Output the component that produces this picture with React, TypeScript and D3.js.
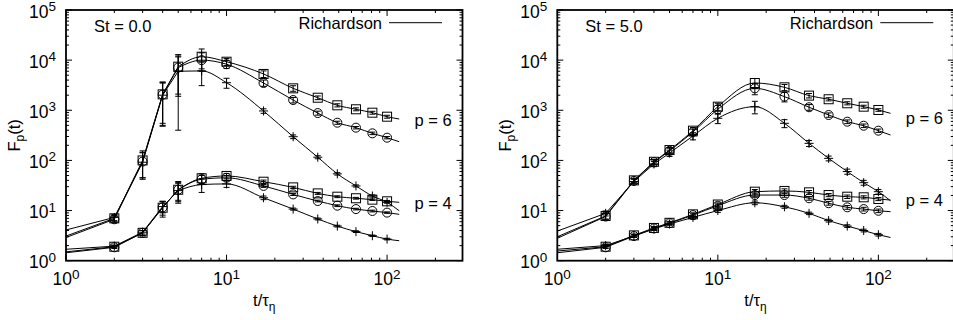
import React from 'react';
import * as d3 from 'd3';

// ---- data ----
const T = [2, 3, 4, 5, 7, 10, 17, 26, 37, 49, 64, 81, 100];
const T_START = 1;
const T_END = 119;
const T_SMOOTH_FROM = 5; // curves are straight segments before this time, smooth fits after

const X_TICKS = [1, 10, 100];
const Y_TICKS = [1, 10, 100, 1000, 10000, 100000];
const PANEL_TITLES = ['St = 0.0', 'St = 5.0'];
const LEGEND_LABEL = 'Richardson';
const ORDER_LABELS = ['p = 6', 'p = 4'];

// St = 0.0, p = 6
const s0p6Square = [7.0, 100, 2080, 7400, 11700, 9300, 5300, 2740, 1780, 1257, 1047, 895, 745];
const s0p6SquareErr = [1, 55, 1600, 5500, 5000, 1500, 800, 350, 150, 90, 70, 60, 50];
const s0p6Circle = [6.7, 95, 2050, 7100, 10000, 8300, 3500, 1600, 880, 565, 450, 347, 284];
const s0p6CircleErr = [1, 50, 1500, 5000, 4000, 1500, 500, 200, 80, 40, 25, 20, 15];
const s0p6Plus = [7.3, 92, 2000, 6000, 6100, 3550, 970, 297, 116, 54, 31, 19.5, 14.6];
const s0p6PlusErr = [1, 50, 1500, 5600, 3000, 800, 100, 25, 8, 3, 1.5, 1, 0.6];
const s0p6Start = [3.1, 2.9, 4.1];
const s0p6End = [670, 236, 9.9];

// St = 0.0, p = 4
const s0p4Square = [1.9, 3.6, 11.4, 26, 44, 49, 37.6, 29, 22, 18.9, 17.6, 16.5, 15.3];
const s0p4SquareErr = [0.1, 0.4, 4, 12, 10, 6, 3, 1.5, 1, 0.8, 0.7, 0.6, 0.6];
const s0p4Circle = [1.85, 3.6, 11.6, 26, 42, 45, 31, 21, 15.5, 12.5, 10.7, 9.8, 9.1];
const s0p4CircleErr = [0.1, 0.4, 3.5, 10, 8, 5, 2, 1, 0.6, 0.5, 0.4, 0.4, 0.3];
const s0p4Plus = [1.95, 3.7, 12, 25, 33, 34, 18, 10.7, 6.8, 4.9, 3.8, 3.15, 2.7];
const s0p4PlusErr = [0.1, 0.3, 3, 10, 10, 5, 1.5, 0.5, 0.3, 0.2, 0.15, 0.1, 0.1];
const s0p4Start = [1.5, 1.44, 1.69];
const s0p4End = [14.6, 8.4, 2.5];

// St = 5.0, p = 6
const s5p6Square = [7.8, 40, 94, 161, 392, 1180, 3500, 2870, 1960, 1660, 1380, 1180, 1014];
const s5p6SquareErr = [1, 4, 10, 20, 60, 200, 800, 400, 200, 120, 100, 80, 60];
const s5p6Circle = [7.6, 39, 92, 155, 370, 1050, 2740, 1870, 1150, 805, 592, 492, 392];
const s5p6CircleErr = [1, 4, 10, 20, 50, 200, 700, 400, 150, 80, 50, 40, 30];
const s5p6Plus = [8.8, 38, 85, 140, 307, 692, 1180, 550, 219, 110, 60, 36, 23.8];
const s5p6PlusErr = [1, 4, 10, 20, 50, 150, 330, 100, 30, 12, 7, 4, 2.5];
const s5p6Start = [3.0, 2.8, 3.9];
const s5p6End = [870, 321, 15.7];

// St = 5.0, p = 4
const s5p4Square = [1.9, 3.2, 4.5, 5.7, 8.4, 13.2, 23.8, 24.6, 23.1, 20.4, 18.9, 18.4, 17];
const s5p4SquareErr = [0.1, 0.2, 0.3, 0.4, 0.6, 1.0, 2.5, 2.5, 2, 1.5, 1.5, 1.3, 1.2];
const s5p4Circle = [1.85, 3.1, 4.4, 5.6, 8.1, 12.5, 20.4, 20.4, 17.6, 14, 11.6, 10.7, 9.9];
const s5p4CircleErr = [0.1, 0.2, 0.3, 0.4, 0.5, 0.9, 2, 2, 1.5, 1.2, 1, 0.9, 0.8];
const s5p4Plus = [2.0, 3.1, 4.3, 5.4, 7.3, 10, 14.3, 11.9, 8.8, 6.3, 4.9, 4.0, 3.3];
const s5p4PlusErr = [0.1, 0.2, 0.3, 0.3, 0.5, 0.8, 1.2, 0.8, 0.5, 0.4, 0.3, 0.25, 0.2];
const s5p4Start = [1.56, 1.44, 1.69];
const s5p4End = [16.2, 9.5, 2.9];

type Marker = 'square' | 'circle' | 'plus';
interface Series { vals: number[]; errs: number[]; start: number; end: number; marker: Marker; }

function group(sq: number[], sqE: number[], ci: number[], ciE: number[], pl: number[], plE: number[], st: number[], en: number[]): Series[] {
  return [
    { vals: sq, errs: sqE, start: st[0], end: en[0], marker: 'square' },
    { vals: ci, errs: ciE, start: st[1], end: en[1], marker: 'circle' },
    { vals: pl, errs: plE, start: st[2], end: en[2], marker: 'plus' },
  ];
}

const PANELS = [
  {
    title: PANEL_TITLES[0],
    series: [
      ...group(s0p6Square, s0p6SquareErr, s0p6Circle, s0p6CircleErr, s0p6Plus, s0p6PlusErr, s0p6Start, s0p6End),
      ...group(s0p4Square, s0p4SquareErr, s0p4Circle, s0p4CircleErr, s0p4Plus, s0p4PlusErr, s0p4Start, s0p4End),
    ],
  },
  {
    title: PANEL_TITLES[1],
    series: [
      ...group(s5p6Square, s5p6SquareErr, s5p6Circle, s5p6CircleErr, s5p6Plus, s5p6PlusErr, s5p6Start, s5p6End),
      ...group(s5p4Square, s5p4SquareErr, s5p4Circle, s5p4CircleErr, s5p4Plus, s5p4PlusErr, s5p4Start, s5p4End),
    ],
  },
];

// ---- layout ----
const W = 953;
const H = 320;
const PANEL_X = [66, 557.3];
const PANEL_W = 396.5;
const TOP = 10;
const BOTTOM = 260.7;
const FONT = '"Liberation Sans", Arial, Helvetica, sans-serif';
const FS = 16.5;
const TICK_FS = 17.5;
const SUP_FS = 13.5;

function minorTicks(lo: number, hi: number): number[] {
  const out: number[] = [];
  for (let e = Math.floor(Math.log10(lo)); e <= Math.ceil(Math.log10(hi)); e++) {
    for (let m = 2; m <= 9; m++) {
      const v = m * Math.pow(10, e);
      if (v > lo && v < hi) out.push(v);
    }
  }
  return out;
}

function Panel({ x0, title, series, orderY }: { x0: number; title: string; series: Series[]; orderY: number[] }) {
  const x = d3.scaleLog().domain([1, 295]).range([x0, x0 + PANEL_W]);
  const y = d3.scaleLog().domain([1, 1e5]).range([BOTTOM, TOP]);
  const x1 = x0 + PANEL_W;
  const straight = d3
    .line<[number, number]>()
    .x((d) => x(d[0]))
    .y((d) => y(d[1]))
    .curve(d3.curveLinear);
  const smooth = d3
    .line<[number, number]>()
    .x((d) => x(d[0]))
    .y((d) => y(d[1]))
    .curve(d3.curveMonotoneX);

  const xMinor = minorTicks(1, 295);
  const yMinor = minorTicks(1, 1e5);
  const MAJ = 6;
  const MIN = 3;
  const ms = 4.5;

  return (
    <g>
      {/* ticks */}
      <g stroke="#000" strokeWidth={1}>
        {X_TICKS.map((t) => (
          <g key={'xt' + t}>
            <line x1={x(t)} x2={x(t)} y1={BOTTOM} y2={BOTTOM - MAJ} />
            <line x1={x(t)} x2={x(t)} y1={TOP} y2={TOP + MAJ} />
          </g>
        ))}
        {xMinor.map((t) => (
          <g key={'xm' + t}>
            <line x1={x(t)} x2={x(t)} y1={BOTTOM} y2={BOTTOM - MIN} />
            <line x1={x(t)} x2={x(t)} y1={TOP} y2={TOP + MIN} />
          </g>
        ))}
        {Y_TICKS.map((v) => (
          <g key={'yt' + v}>
            <line x1={x0} x2={x0 + MAJ} y1={y(v)} y2={y(v)} />
            <line x1={x1} x2={x1 - MAJ} y1={y(v)} y2={y(v)} />
          </g>
        ))}
        {yMinor.map((v) => (
          <g key={'ym' + v}>
            <line x1={x0} x2={x0 + MIN} y1={y(v)} y2={y(v)} />
            <line x1={x1} x2={x1 - MIN} y1={y(v)} y2={y(v)} />
          </g>
        ))}
      </g>

      {/* tick labels */}
      <g fontFamily={FONT} fontSize={TICK_FS} fill="#000">
        {X_TICKS.map((t) => (
          <text key={'xl' + t} x={x(t)} y={285} textAnchor="middle">
            10<tspan fontSize={SUP_FS} dy={-6.5}>{Math.round(Math.log10(t))}</tspan>
          </text>
        ))}
        {Y_TICKS.map((v) => (
          <text key={'yl' + v} x={x0 - 10} y={y(v) + 7.5} textAnchor="end">
            10<tspan fontSize={SUP_FS} dy={-6.5}>{Math.round(Math.log10(v))}</tspan>
          </text>
        ))}
      </g>

      {/* axis labels */}
      <g fontFamily={FONT} fontSize={FS} fill="#000">
        <text transform={`translate(${x0 - 46},${(TOP + BOTTOM) / 2}) rotate(-90)`} textAnchor="middle">
          F<tspan fontSize={12} dy={4}>p</tspan><tspan dy={-4}>(t)</tspan>
        </text>
        <text x={(x0 + x1) / 2} y={306} textAnchor="middle">
          t/τ<tspan fontSize={12} dy={5}>η</tspan>
        </text>
        <text x={x0 + 28} y={31.5}>{title}</text>
        <text x={x0 + 316} y={28.5} textAnchor="end">{LEGEND_LABEL}</text>
        <text x={x0 + 348.5} y={orderY[0]}>{ORDER_LABELS[0]}</text>
        <text x={x0 + 348.5} y={orderY[1]}>{ORDER_LABELS[1]}</text>
      </g>
      <line x1={x0 + 323} x2={x0 + 376} y1={22.7} y2={22.7} stroke="#000" strokeWidth={1} />

      {/* curves: straight segments at early times, smooth fit afterwards */}
      <g fill="none" stroke="#000" strokeWidth={1}>
        {series.map((s, i) => {
          const pts: [number, number][] = [[T_START, s.start], ...T.map((t, j) => [t, s.vals[j]] as [number, number]), [T_END, s.end]];
          const early = pts.filter((p) => p[0] <= T_SMOOTH_FROM);
          const late = pts.filter((p) => p[0] >= T_SMOOTH_FROM);
          return (
            <g key={'c' + i}>
              <path d={straight(early) || ''} />
              <path d={smooth(late) || ''} />
            </g>
          );
        })}
      </g>

      {/* error bars and markers */}
      <g fill="none" stroke="#000" strokeWidth={1}>
        {series.map((s, i) =>
          T.map((t, j) => {
            const v = s.vals[j];
            const e = s.errs[j];
            const cx = x(t);
            const cy = y(v);
            const yLo = y(Math.max(v - e, 1));
            const yHi = y(v + e);
            let mk: React.ReactNode = null;
            if (s.marker === 'square') mk = <rect x={cx - ms} y={cy - ms} width={2 * ms} height={2 * ms} />;
            else if (s.marker === 'circle') mk = <circle cx={cx} cy={cy} r={ms} />;
            else mk = <path d={`M${cx - ms},${cy}H${cx + ms}M${cx},${cy - ms}V${cy + ms}`} />;
            return (
              <g key={`m${i}-${j}`}>
                <line x1={cx} x2={cx} y1={yLo} y2={yHi} />
                <line x1={cx - 3} x2={cx + 3} y1={yLo} y2={yLo} />
                <line x1={cx - 3} x2={cx + 3} y1={yHi} y2={yHi} />
                {mk}
              </g>
            );
          })
        )}
      </g>

      {/* frame */}
      <rect x={x0} y={TOP} width={PANEL_W} height={BOTTOM - TOP} fill="none" stroke="#000" strokeWidth={1.8} />
    </g>
  );
}

export default function App() {
  return (
    <svg width={W} height={H} viewBox={`0 0 ${W} ${H}`} style={{ display: 'block', position: 'absolute', left: 0, top: 0, background: '#fff' }}>
      <rect x={0} y={0} width={W} height={H} fill="#fff" />
      <Panel x0={PANEL_X[0]} title={PANELS[0].title} series={PANELS[0].series} orderY={[126, 209]} />
      <Panel x0={PANEL_X[1]} title={PANELS[1].title} series={PANELS[1].series} orderY={[124, 206]} />
    </svg>
  );
}
